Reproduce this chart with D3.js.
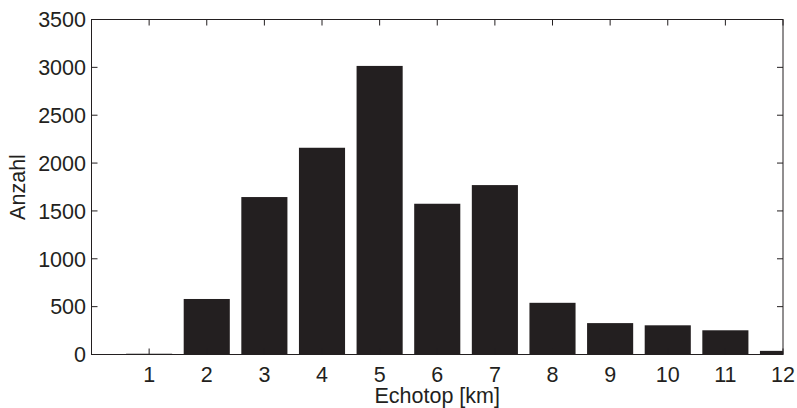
<!DOCTYPE html>
<html><head><meta charset="utf-8">
<script src="https://cdn.jsdelivr.net/npm/d3@7"></script>
<style>body{margin:0;background:#fff}svg{display:block}text{font-family:"Liberation Sans",Arial,sans-serif;fill:#231f20}</style>
</head><body>
<script>
const categories = [1,2,3,4,5,6,7,8,9,10,11,12];
const counts = [8,580,1645,2160,3015,1575,1770,540,328,305,253,38];
const yTicks = [0,500,1000,1500,2000,2500,3000,3500];
const xTicks = [1,2,3,4,5,6,7,8,9,10,11,12];

const W=797,H=408, L=91.5, R=783, T=19.5, B=354.5;
const FS=21.5;
const svg = d3.select("body").append("svg").attr("width",W).attr("height",H);
const x = d3.scaleLinear().domain([0,12]).range([L,R]);
const y = d3.scaleLinear().domain([0,3500]).range([B,T]);
const bw = (x(1)-x(0))*0.8;

svg.append("defs").append("clipPath").attr("id","c").append("rect")
  .attr("x",L).attr("y",T).attr("width",R-L).attr("height",B-T);

svg.append("g").attr("clip-path","url(#c)").selectAll("rect").data(categories).join("rect")
  .attr("x",(d)=>x(d)-bw/2).attr("width",bw)
  .attr("y",(d,i)=>y(counts[i])).attr("height",(d,i)=>B-y(counts[i]))
  .attr("fill","#231f20");

const tk=6, col="#231f20";
const g = svg.append("g").attr("stroke",col).attr("stroke-width",1).attr("fill","none");
g.append("rect").attr("x",L).attr("y",T).attr("width",R-L).attr("height",B-T);
yTicks.forEach(v=>{
  g.append("line").attr("x1",L).attr("x2",L+tk).attr("y1",y(v)).attr("y2",y(v));
  g.append("line").attr("x1",R).attr("x2",R-tk).attr("y1",y(v)).attr("y2",y(v));
});
xTicks.forEach(v=>{
  g.append("line").attr("x1",x(v)).attr("x2",x(v)).attr("y1",B).attr("y2",B-tk);
  g.append("line").attr("x1",x(v)).attr("x2",x(v)).attr("y1",T).attr("y2",T+tk);
});
svg.selectAll("text.yt").data(yTicks).join("text").attr("class","yt")
  .attr("x",86).attr("y",d=>y(d)).attr("dy","0.36em").attr("text-anchor","end")
  .attr("font-size",FS).text(d=>d);
svg.selectAll("text.xt").data(xTicks).join("text").attr("class","xt")
  .attr("x",d=>x(d)).attr("y",382).attr("text-anchor","middle")
  .attr("font-size",FS).text(d=>d);
svg.append("text").attr("x",(L+R)/2).attr("y",403).attr("text-anchor","middle")
  .attr("font-size",FS).text("Echotop [km]");
svg.append("text").attr("transform",`translate(24.5,${(T+B)/2}) rotate(-90)`)
  .attr("text-anchor","middle").attr("font-size",FS).text("Anzahl");
</script>
</body></html>
